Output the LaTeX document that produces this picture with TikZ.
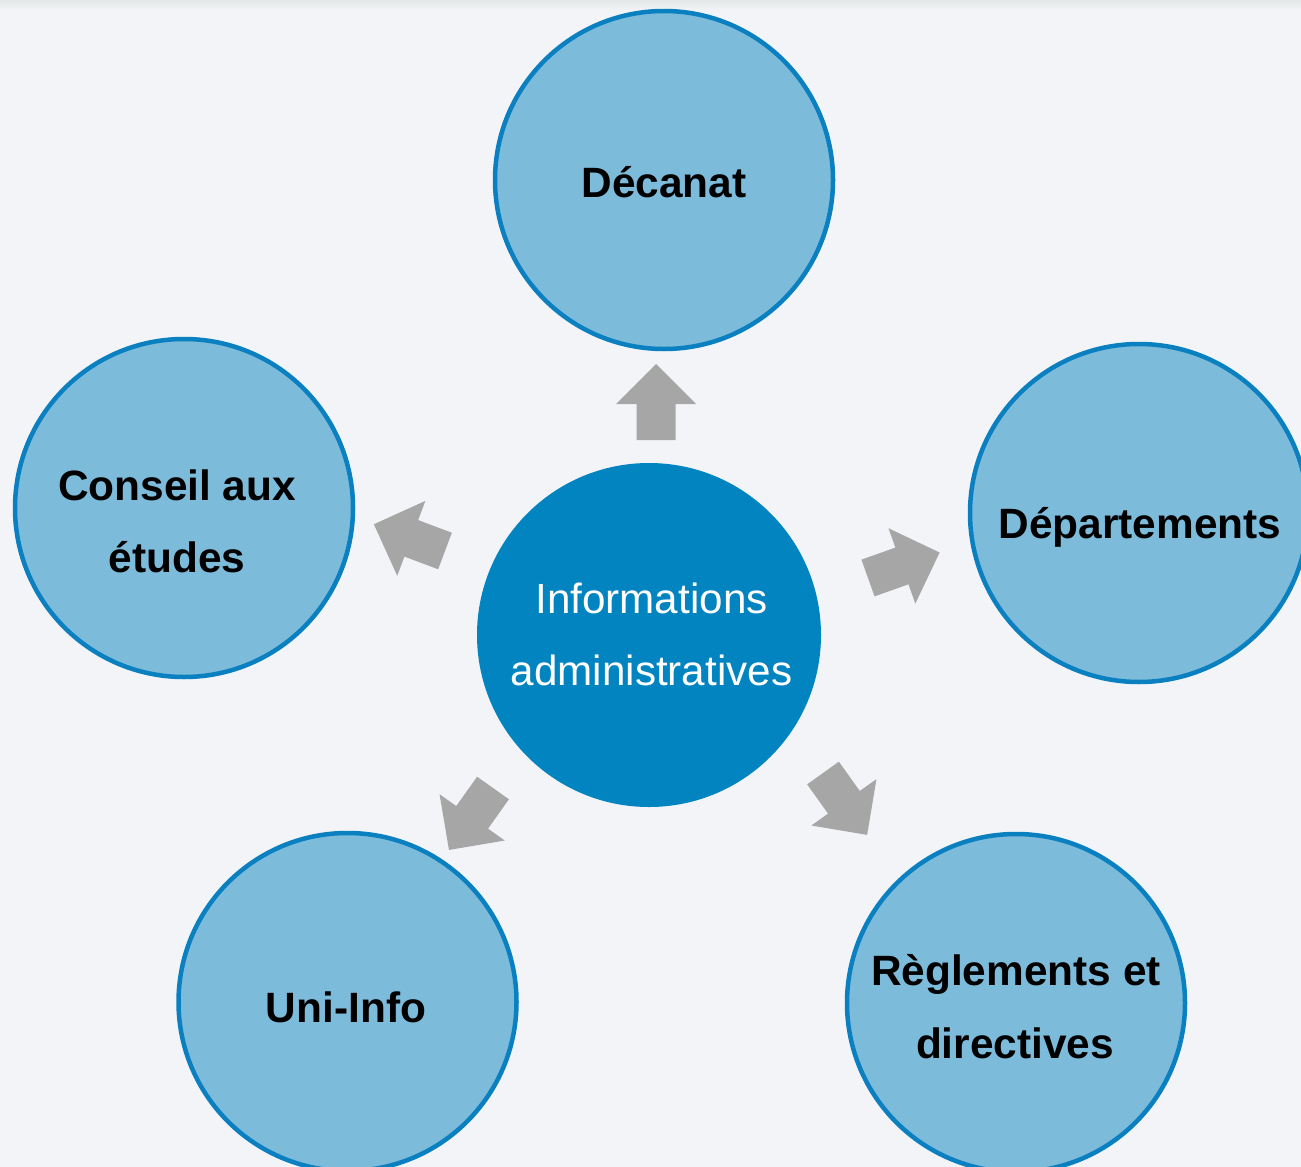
\documentclass[tikz,border=0pt]{standalone}
\usepackage{fontspec}
\setmainfont{Liberation Sans}
\definecolor{bgc}{HTML}{F3F4F8}
\definecolor{bandc}{HTML}{E4E8E8}
\definecolor{lightfill}{HTML}{7DBBDB}
\definecolor{ringc}{HTML}{0A80C0}
\definecolor{corefill}{HTML}{0284C0}
\definecolor{arrowc}{HTML}{A6A6A6}
\tikzset{
  outercircle/.style={circle, draw=ringc, line width=4.5pt, fill=lightfill, minimum size=338pt, inner sep=0pt},
  corecircle/.style={circle, draw=corefill, line width=2pt, fill=corefill, minimum size=342pt, inner sep=0pt},
  outerlabel/.style={anchor=base, inner sep=0pt, font=\fontsize{42.4}{50}\selectfont\bfseries, text=black},
  corelabel/.style={anchor=base, inner sep=0pt, font=\fontsize{42.2}{50}\selectfont, text=white},
  blockarrow/.style={fill=arrowc, draw=none}
}
\newcommand{\blockarr}[3]{%
  \begin{scope}[shift={(#1,#2)}, rotate=#3]
    \fill[blockarrow] (0,-19.5) -- (36,-19.5) -- (36,-40) -- (76,0) -- (36,40) -- (36,19.5) -- (0,19.5) -- cycle;
  \end{scope}}
\begin{document}
\begin{tikzpicture}[x=1pt, y=-1pt]
  \useasboundingbox (0,0) rectangle (1301,1167);
  \fill[bgc] (0,0) rectangle (1301,1167);
  \shade[top color=bandc, bottom color=bgc] (0,0) rectangle (1301,11);
  \begin{scope}
    \clip (0,0) rectangle (1301,1167);
    \node[outercircle] (dec) at (664,180) {};
    \node[outercircle] (cons) at (184,508) {};
    \node[outercircle] (dep) at (1139,513) {};
    \node[outercircle] (uni) at (347.5,1002) {};
    \node[outercircle] (reg) at (1016,1003) {};
    \node[corecircle] (core) at (649,635) {};
  \end{scope}
  \node[outerlabel] (tdec) at (664,197) {Décanat};
  \node[outerlabel] (tcons1) at (177,500) {Conseil aux};
  \node[outerlabel] (tcons2) at (177,572) {études};
  \node[outerlabel] (tdep) at (1140,538) {Départements};
  \node[outerlabel] (tuni) at (346,1022) {Uni-Info};
  \node[outerlabel] (treg1) at (1016,985) {Règlements et};
  \node[outerlabel] (treg2) at (1015,1058) {directives};
  \node[corelabel] (tcore1) at (651.5,613) {Informations};
  \node[corelabel] (tcore2) at (651.5,685) {administratives};
  \blockarr{656}{440}{90}
  \blockarr{445}{551}{159.4}
  \blockarr{868}{578}{19.6}
  \blockarr{493}{788}{234.6}
  \blockarr{823}{773}{-54.5}
\end{tikzpicture}
\end{document}
